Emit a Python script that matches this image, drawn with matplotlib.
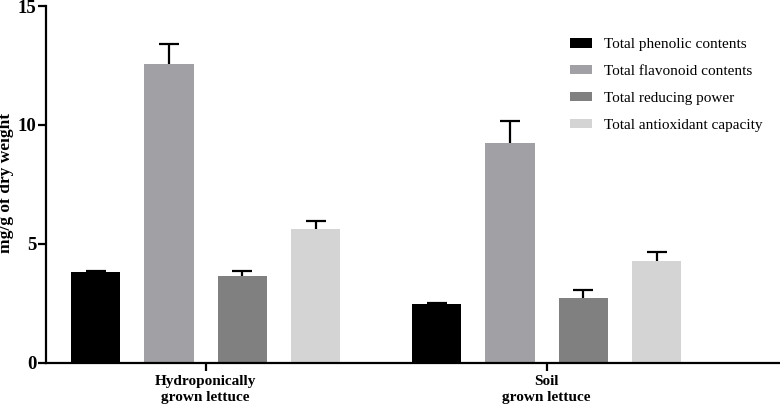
import matplotlib.pyplot as plt
import numpy as np

groups = ['Hydroponically\ngrown lettuce', 'Soil\ngrown lettuce']
series = ['Total phenolic contents', 'Total flavonoid contents',
          'Total reducing power', 'Total antioxidant capacity']
phenolic = [3.81, 2.47]
phenolic_err = [0.06, 0.05]
flavonoid = [12.55, 9.25]
flavonoid_err = [0.84, 0.93]
reducing = [3.65, 2.73]
reducing_err = [0.22, 0.34]
antioxidant = [5.64, 4.29]
antioxidant_err = [0.31, 0.36]

values = [phenolic, flavonoid, reducing, antioxidant]
errors = [phenolic_err, flavonoid_err, reducing_err, antioxidant_err]
colors = ['#000000', '#a1a1a5', '#808080', '#d4d4d4']

plt.rcParams['font.family'] = ['Liberation Serif', 'DejaVu Serif']

fig = plt.figure(figsize=(7.8, 4.05), dpi=100)
ax = fig.add_axes([0.059, 0.1044, 0.941, 0.8806])

x = np.arange(len(groups))
step = 0.215
width = 0.144
for i, (vals, errs, c, name) in enumerate(zip(values, errors, colors, series)):
    pos = x + (i - 1.5) * step
    ax.bar(pos, vals, width, color=c, label=name, zorder=2)
    eb = ax.errorbar(pos, vals, yerr=[np.zeros(len(errs)), errs], fmt='none',
                     ecolor='black', elinewidth=1.6, capsize=7.5, capthick=1.6,
                     zorder=3)
    # only the upper cap is shown
    eb[1][0].set_visible(False)

ax.set_xlim(-0.468, 1.684)
ax.set_ylim(0, 15)
ax.set_yticks([0, 5, 10, 15])
ax.set_xticks(x)
ax.set_xticklabels(groups, fontweight='bold', fontsize=11, linespacing=1.3)
for lab in ax.get_yticklabels():
    lab.set_fontweight('bold')
    lab.set_fontsize(13.5)
ax.set_ylabel('mg/g of dry weight', fontweight='bold', fontsize=12.5)
ax.yaxis.set_label_coords(-0.043, 0.504)

for s in ['top', 'right']:
    ax.spines[s].set_visible(False)
for s in ['left', 'bottom']:
    ax.spines[s].set_linewidth(1.6)
ax.tick_params(axis='both', width=1.6, length=6, direction='out')
ax.tick_params(axis='y', pad=1)
ax.tick_params(axis='x', pad=3)

fig.legend(loc='upper left', bbox_to_anchor=(570 / 780, 1 - 38 / 405),
           frameon=False, fontsize=11, borderpad=0, borderaxespad=0,
           handlelength=1.44, handleheight=0.58, handletextpad=0.78,
           labelspacing=0.9)

fig.savefig('out.png', dpi=100)
